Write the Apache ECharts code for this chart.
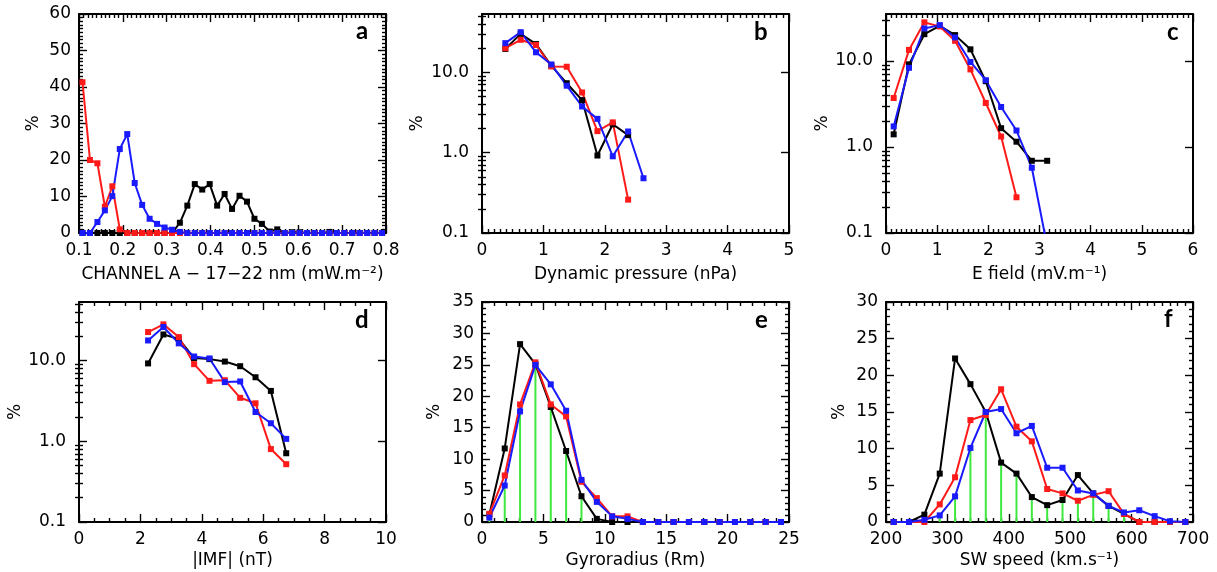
<!DOCTYPE html>
<html>
<head>
	<meta charset="utf-8">
	<title>Distributions</title>
	<style>
		body { margin: 0; background: #fff; }
		#box { width: 1217px; height: 572px; }
	</style>
</head>
<body>
	<div id="box"></div>
</body>
<script type="text/javascript" src="https://cdn.jsdelivr.net/npm/echarts@6/dist/echarts.min.js"></script>
<script type="text/javascript">
	// a : EUV channel A
	var aX = [0.108, 0.125, 0.142, 0.159, 0.176, 0.193, 0.210, 0.227, 0.244, 0.261, 0.278, 0.295, 0.312, 0.330,
		0.347, 0.364, 0.381, 0.398, 0.415, 0.432, 0.449, 0.466, 0.483, 0.500, 0.517, 0.535, 0.552, 0.569,
		0.586, 0.603, 0.620, 0.637, 0.654, 0.671, 0.688, 0.705, 0.723, 0.740, 0.757, 0.774, 0.791];
	var aBlack = [0, 0, 0, 0, 0, 0, 0, 0, 0, 0, 0, 0, 0, 2.8,
		7.5, 13.4, 11.9, 13.4, 7.5, 10.7, 6.6, 10.2, 8.6, 3.9, 2.5, 0.4, 1.0, 0,
		0.2, 0.2, 0, 0, 0, 0.3, 0, 0, 0, 0, 0, 0, 0];
	var aRed = [41.3, 20.0, 19.1, 7.2, 12.8, 1.0, 0, 0, 0, 0, 0, 0, 0, 0,
		0, 0, 0, 0, 0, 0, 0, 0, 0, 0, 0, 0, 0, 0,
		0, 0, 0, 0, 0, 0, 0, 0, 0, 0, 0, 0, 0];
	var aBlue = [0, 0, 3.0, 6.2, 10.1, 23.0, 27.1, 13.7, 7.7, 3.9, 2.5, 1.5, 0.9, 0.3,
		0, 0, 0, 0, 0, 0, 0, 0, 0, 0, 0, 0, 0, 0,
		0, 0, 0, 0, 0, 0, 0, 0, 0, 0, 0, 0, 0];

	// b : dynamic pressure
	var bX = [0.38, 0.63, 0.88, 1.13, 1.38, 1.63, 1.88, 2.13, 2.38, 2.63];
	var bBlack = [19.5, 30, 22.4, 12.0, 7.3, 4.5, 0.92, 2.25, 1.65];
	var bRed = [19.9, 25.3, 21.8, 11.8, 11.7, 5.6, 1.85, 2.38, 0.26];
	var bBlue = [23, 31.5, 17.7, 12.5, 6.8, 3.75, 2.63, 0.9, 1.83, 0.48];

	// c : E field
	var cX = [0.15, 0.45, 0.75, 1.05, 1.35, 1.65, 1.95, 2.25, 2.55, 2.85, 3.15];
	var cBlack = [1.4, 9.1, 20.4, 25.5, 19.9, 13.6, 5.8, 1.65, 1.15, 0.69, 0.69];
	var cRed = [3.7, 13.4, 28, 25.1, 17.1, 7.95, 3.24, 1.32, 0.26];
	var cBlue = [1.73, 8.3, 23.8, 26, 18.7, 9.7, 5.96, 2.91, 1.55, 0.573, 0.07];

	// d : |IMF|
	var dX = [2.25, 2.75, 3.25, 3.75, 4.25, 4.75, 5.25, 5.75, 6.25, 6.75];
	var dBlack = [9.2, 21, 18.5, 10.7, 10.4, 9.7, 8.5, 6.2, 4.2, 0.71];
	var dRed = [22.5, 28, 19.5, 9.0, 5.6, 5.7, 3.45, 2.95, 0.8, 0.52];
	var dBlue = [17.7, 26, 16.3, 11.2, 10.6, 5.4, 5.5, 2.3, 1.67, 1.07];

	// e : gyroradius
	var eX = [0.6, 1.85, 3.1, 4.35, 5.6, 6.85, 8.1, 9.35, 10.6, 11.85, 13.1, 14.35, 15.6, 16.85, 18.1, 19.35, 20.6, 21.85, 23.1, 24.35];
	var eBlack = [1.2, 11.7, 28.3, 25.1, 18.3, 11.3, 4.1, 0.5, 0, 0, 0, 0, 0, 0, 0, 0, 0, 0, 0, 0];
	var eRed = [1.3, 7.4, 18.7, 25.4, 18.7, 16.8, 6.4, 3.8, 0.9, 0.9, 0, 0, 0, 0, 0, 0, 0, 0, 0, 0];
	var eBlue = [0.7, 5.8, 17.6, 25.0, 21.9, 17.7, 6.7, 3.2, 0.9, 0.5, 0, 0, 0, 0, 0, 0, 0, 0, 0, 0];
	var eGreen = [0.7, 5.8, 17.6, 25.0, 18.3, 11.3, 4.1, 0.5];

	// f : solar wind speed
	var fX = [212.5, 237.5, 262.5, 287.5, 312.5, 337.5, 362.5, 387.5, 412.5, 437.5, 462.5, 487.5, 512.5, 537.5, 562.5, 587.5, 612.5, 637.5, 662.5, 687.5];
	var fBlack = [0, 0, 1.0, 6.6, 22.3, 18.8, 15.0, 8.1, 6.6, 3.4, 2.3, 3.0, 6.4, 3.9, 2.2, 1.1, 0, 0, 0, 0];
	var fRed = [0, 0, 0, 2.4, 6.1, 13.9, 14.6, 18.1, 13.0, 11.0, 4.5, 3.9, 2.9, 3.7, 4.2, 1.1, 0, 0, 0, 0];
	var fBlue = [0, 0, 0.3, 0.9, 3.5, 10.1, 15.0, 15.4, 12.1, 13.1, 7.4, 7.4, 4.3, 3.9, 2.2, 1.3, 1.6, 0.8, 0.1, 0];
	var fGreen = [0, 0, 0, 0.9, 3.5, 10.1, 14.6, 8.1, 6.6, 3.4, 2.3, 3.0, 2.9, 3.7, 2.2, 1.1];

	var panelLetters = ['a', 'b', 'c', 'd', 'e', 'f'];
	var xTitles = ['CHANNEL A \u2212 17\u221222 nm (mW.m\u207B\u00B2)', 'Dynamic pressure (nPa)', 'E field (mV.m\u207B\u00B9)',
		'|IMF| (nT)', 'Gyroradius (Rm)', 'SW speed (km.s\u207B\u00B9)'];
	var logTicks = [0.1, 1, 10];
	var logMinorTicks = [0.2, 0.3, 0.4, 0.5, 0.6, 0.7, 0.8, 0.9, 2, 3, 4, 5, 6, 7, 8, 9, 20, 30, 40, 50];

	var RED = '#ff1a1a', BLUE = '#1a1aff', BLACK = '#000000', GREEN = '#3ee83e';
	var FONT = 'DejaVu Sans';

	// axis ranges per panel : x = [min, max, interval, minor splits], y likewise, or log max
	var panels = [
		{ x: [0.1, 0.8, 0.1, 10], y: [0, 60, 10, 10], gap: 37 },
		{ x: [0, 5, 1, 10], log: 53, gap: 56 },
		{ x: [0, 6, 1, 10], log: 35, gap: 54 },
		{ x: [0, 10, 2, 4], log: 53, gap: 54 },
		{ x: [0, 25, 5, 5], y: [0, 35, 5, 5], gap: 39 },
		{ x: [200, 700, 100, 8], y: [0, 30, 5, 5], gap: 38 }
	];
	var grids = [
		{ left: 79, top: 14, width: 307, height: 219 },
		{ left: 482, top: 14, width: 307, height: 219 },
		{ left: 886, top: 14, width: 307, height: 219 },
		{ left: 79, top: 302, width: 307, height: 220 },
		{ left: 482, top: 302, width: 307, height: 220 },
		{ left: 886, top: 302, width: 307, height: 220 }
	];
	var letterPos = [[356, 19], [754, 20], [1167, 20], [355, 308], [755, 308], [1164, 307]];

	var lineSt = { color: '#000', width: 2 };
	var tickSt = { color: '#000', width: 1.4 };

	function pairs(xs, ys) {
		var out = [];
		for (var i = 0; i < ys.length; i++) out.push([xs[i], ys[i]]);
		return out;
	}

	var xAxes = [], yAxes = [], series = [], mainY = [];

	panels.forEach(function (p, g) {
		var top = g < 3;
		// bottom and top x axes (box with inward ticks)
		['bottom', 'top'].forEach(function (pos) {
			xAxes.push({
				type: 'value', gridIndex: g, position: pos,
				min: p.x[0], max: p.x[1], interval: p.x[2],
				axisLine: { show: true, onZero: false, lineStyle: lineSt },
				axisTick: { show: true, inside: true, length: 8, lineStyle: tickSt },
				minorTick: { show: true, splitNumber: p.x[3], length: 4, lineStyle: tickSt },
				splitLine: { show: false },
				axisLabel: {
					show: pos === 'bottom', color: '#000', fontFamily: FONT, fontSize: 17, margin: 9,
					formatter: function (v) { return g === 0 ? v.toFixed(1) : String(v); }
				},
				name: pos === 'bottom' ? xTitles[g] : '',
				nameLocation: 'middle', nameGap: top ? 33 : 30,
				nameTextStyle: { color: '#000', fontFamily: FONT, fontSize: 17 }
			});
		});
		// left and right y axes
		['left', 'right'].forEach(function (pos) {
			var isLeft = pos === 'left';
			if (isLeft) mainY[g] = yAxes.length;
			var ax = {
				gridIndex: g, position: pos,
				axisLine: { show: true, onZero: false, lineStyle: lineSt },
				splitLine: { show: false },
				name: isLeft ? '%' : '', nameLocation: 'middle', nameRotate: 90, nameGap: p.gap,
				nameTextStyle: { color: '#000', fontFamily: FONT, fontSize: 17 }
			};
			if (p.log) {
				ax.type = 'log'; ax.logBase = 10; ax.min = 0.1; ax.max = p.log;
				ax.axisTick = { show: true, inside: true, length: 8, lineStyle: tickSt, customValues: logTicks };
				ax.axisLabel = {
					show: isLeft, customValues: logTicks, color: '#000', fontFamily: FONT, fontSize: 17, margin: 13,
					formatter: function (v) { return Number(v).toFixed(1); }
				};
				yAxes.push(ax);
				// minor log ticks on a twin axis
				yAxes.push({
					type: 'log', logBase: 10, gridIndex: g, position: pos, min: 0.1, max: p.log,
					axisLine: { show: false },
					axisTick: { show: true, inside: true, length: 4, lineStyle: tickSt,
						customValues: logMinorTicks.filter(function (v) { return v <= p.log; }) },
					axisLabel: { show: false }, splitLine: { show: false }
				});
			} else {
				ax.type = 'value'; ax.min = p.y[0]; ax.max = p.y[1]; ax.interval = p.y[2];
				ax.axisTick = { show: true, inside: true, length: 8, lineStyle: tickSt };
				ax.minorTick = { show: true, splitNumber: p.y[3], length: 4, lineStyle: tickSt };
				ax.axisLabel = { show: isLeft, color: '#000', fontFamily: FONT, fontSize: 17, margin: 8 };
				yAxes.push(ax);
			}
		});
	});

	function line(g, xs, ys, color) {
		return {
			type: 'line', xAxisIndex: g * 2, yAxisIndex: mainY[g],
			data: pairs(xs, ys),
			symbol: 'rect', symbolSize: 6, showAllSymbol: true,
			itemStyle: { color: color },
			lineStyle: { color: color, width: 2 },
			clip: true, animation: false, z: 3
		};
	}
	// green stems of panels e and f
	function stems(g, xs, ys) {
		return {
			type: 'bar', xAxisIndex: g * 2, yAxisIndex: mainY[g],
			data: pairs(xs, ys), barWidth: 2,
			itemStyle: { color: GREEN }, animation: false, z: 1
		};
	}

	series.push(stems(4, eX, eGreen), stems(5, fX, fGreen));
	var sets = [
		[aX, aBlack, aRed, aBlue], [bX, bBlack, bRed, bBlue], [cX, cBlack, cRed, cBlue],
		[dX, dBlack, dRed, dBlue], [eX, eBlack, eRed, eBlue], [fX, fBlack, fRed, fBlue]
	];
	sets.forEach(function (s, g) {
		series.push(line(g, s[0], s[1], BLACK), line(g, s[0], s[2], RED), line(g, s[0], s[3], BLUE));
	});

	var titles = panelLetters.map(function (t, i) {
		return {
			text: t, left: letterPos[i][0], top: letterPos[i][1], padding: 0,
			textStyle: { color: '#000', fontFamily: 'Lato', fontWeight: 'bold', fontSize: 24 }
		};
	});

	var myChart = echarts.init(document.getElementById('box'));
	myChart.setOption({
		backgroundColor: '#fff',
		animation: false,
		title: titles,
		grid: grids,
		xAxis: xAxes,
		yAxis: yAxes,
		series: series
	});
</script>
</html>
